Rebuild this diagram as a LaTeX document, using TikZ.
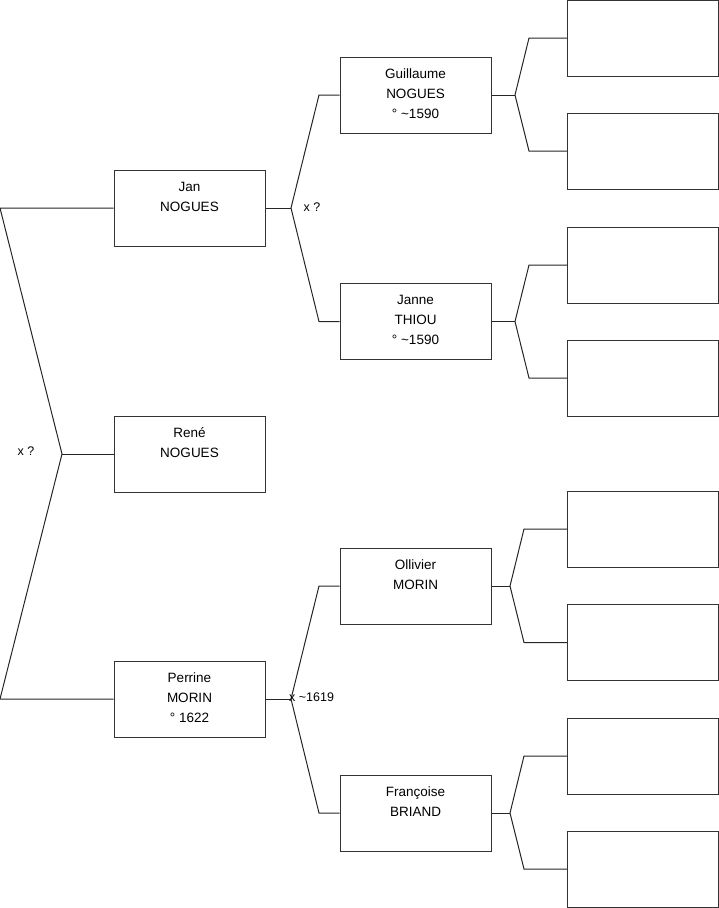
\documentclass[tikz,border=0pt]{standalone}
\usepackage{fontspec}
\setmainfont{Liberation Sans}
\begin{document}
\begin{tikzpicture}[x=1pt,y=-1pt,
  pbox/.style={draw=black!80,line width=1pt,minimum width=151pt,minimum height=76pt,inner sep=0pt},
  ptext/.style={anchor=north,align=center,inner sep=0pt,font=\fontsize{13.5}{20}\selectfont},
  conn/.style={draw=black!85,line width=1pt},
  lbl/.style={inner sep=0pt,font=\fontsize{12.5}{14}\selectfont}]
\useasboundingbox (0,0) rectangle (719,908);
% generation 1
\node[pbox] (jan) at (189.5,208) {};
\node[ptext] (jant) at ([yshift=-12.3]jan.north) {Jan\\NOGUES};
\node[pbox] (rene) at (189.5,454) {};
\node[ptext] (renet) at ([yshift=-12.3]rene.north) {René\\NOGUES};
\node[pbox] (perrine) at (189.5,699) {};
\node[ptext] (perrinet) at ([yshift=-12.3]perrine.north) {Perrine\\MORIN\\° 1622};
% generation 2
\node[pbox] (guil) at (415.5,95) {};
\node[ptext] (guilt) at ([yshift=-12.3]guil.north) {Guillaume\\NOGUES\\° \textasciitilde1590};
\node[pbox] (janne) at (415.5,321.5) {};
\node[ptext] (jannet) at ([yshift=-12.3]janne.north) {Janne\\THIOU\\° \textasciitilde1590};
\node[pbox] (olli) at (415.5,586) {};
\node[ptext] (ollit) at ([yshift=-12.3]olli.north) {Ollivier\\MORIN};
\node[pbox] (fran) at (415.5,813) {};
\node[ptext] (frant) at ([yshift=-12.3]fran.north) {Françoise\\BRIAND};
% generation 3
\node[pbox] (g1) at (643,38) {};
\node[pbox] (g2) at (643,151) {};
\node[pbox] (g3) at (643,265) {};
\node[pbox] (g4) at (643,378) {};
\node[pbox] (g5) at (643,529) {};
\node[pbox] (g6) at (643,642.5) {};
\node[pbox] (g7) at (643,756) {};
\node[pbox] (g8) at (643,869) {};
% left bracket
\coordinate (la) at (0,208);
\coordinate (lj) at (62,454);
\coordinate (lb) at (0,699);
\draw[conn] (jan.west) -- (la) -- (lj) -- (lb) -- (perrine.west);
\draw[conn] (lj) -- (rene.west);
\node[lbl] (lx) at (26,451) {x ?};
% Jan bracket
\coordinate (jj) at (291,208);
\draw[conn] (jan.east) -- (jj);
\draw[conn] (guil.west) -- (319,95) -- (jj) -- (319,321.5) -- (janne.west);
\node[lbl] (jx) at (312,207) {x ?};
% Perrine bracket
\coordinate (pj) at (291,699);
\draw[conn] (perrine.east) -- (pj);
\draw[conn] (olli.west) -- (319,586) -- (pj) -- (319,813) -- (fran.west);
\node[lbl,anchor=west] (px) at (289,697) {x \textasciitilde1619};
% generation 2 brackets
\coordinate (gj) at (515,95);
\draw[conn] (guil.east) -- (gj);
\draw[conn] (g1.west) -- (529,38) -- (gj) -- (529,151) -- (g2.west);
\coordinate (jnj) at (515,321.5);
\draw[conn] (janne.east) -- (jnj);
\draw[conn] (g3.west) -- (529,265) -- (jnj) -- (529,378) -- (g4.west);
\coordinate (oj) at (510,586);
\draw[conn] (olli.east) -- (oj);
\draw[conn] (g5.west) -- (524,529) -- (oj) -- (524,642.5) -- (g6.west);
\coordinate (fj) at (510,813);
\draw[conn] (fran.east) -- (fj);
\draw[conn] (g7.west) -- (524,756) -- (fj) -- (524,869) -- (g8.west);
\end{tikzpicture}
\end{document}
